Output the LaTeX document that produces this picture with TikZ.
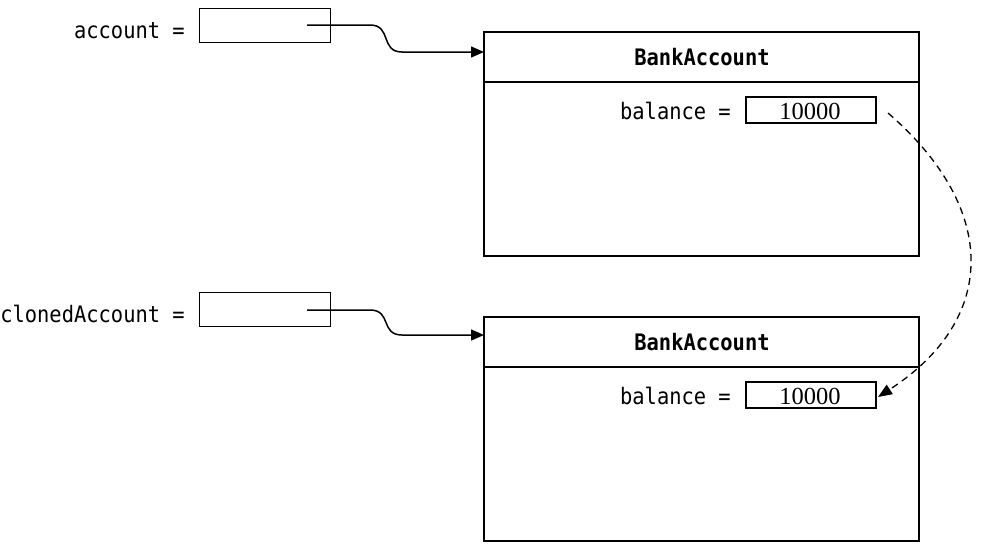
\documentclass[tikz,border=0pt]{standalone}
\usepackage{fontspec}
\setmonofont[FakeStretch=0.9]{DejaVu Sans Mono}
\setmainfont{Liberation Serif}
\usetikzlibrary{arrows.meta,calc}
\begin{document}
\begin{tikzpicture}[x=1pt,y=-1pt,
  mono/.style={font=\fontsize{22.7}{26}\selectfont\ttfamily, inner sep=0pt},
  lbl/.style={mono, anchor=base east},
  ref/.style={draw=black, line width=1.4pt, minimum width=131pt, minimum height=34pt, inner sep=0pt, outer sep=0pt},
  objbox/.style={draw=black, line width=2.4pt, minimum width=435pt, minimum height=224pt, inner sep=0pt, outer sep=0pt},
  hdrbox/.style={draw=black, line width=2.4pt, minimum width=435pt, minimum height=50pt, inner sep=0pt, outer sep=0pt},
  title/.style={font=\fontsize{22.7}{26}\selectfont\ttfamily\bfseries, inner sep=0pt, anchor=base},
  valbox/.style={draw=black, line width=1.4pt, minimum width=130pt, minimum height=26pt, inner sep=0pt, outer sep=0pt},
  valtext/.style={font=\fontsize{24.5}{28}\selectfont\rmfamily, inner sep=0pt, anchor=base},
  ptr/.style={draw=black, line width=1.5pt, -{Triangle[length=13pt,width=11pt]}},
  copyarrow/.style={draw=black, line width=1.3pt, dash pattern=on 7pt off 5pt, -{Triangle[length=14pt,width=11pt]}}
]
\useasboundingbox (0,0) rectangle (982,554);

% reference variables
\node[lbl] (accl) at (185,38) {account =};
\node[ref] (acc) at (265,25.5) {};
\coordinate (accp) at (307,25);
\node[lbl] (clol) at (185,322) {clonedAccount =};
\node[ref] (clo) at (265,309.5) {};
\coordinate (clop) at (307,310);

% object 1
\node[objbox] (obj1) at (701.5,144) {};
\node[hdrbox, anchor=north] (h1) at (obj1.north) {};
\node[title] (t1) at (702,65) {BankAccount};
\node[lbl] (b1) at (731,119) {balance =};
\node[valbox] (v1) at (811,110) {};
\node[valtext] (n1) at (810,119) {10000};

% object 2
\node[objbox] (obj2) at (701.5,429) {};
\node[hdrbox, anchor=north] (h2) at (obj2.north) {};
\node[title] (t2) at (702,350) {BankAccount};
\node[lbl] (b2) at (731,404) {balance =};
\node[valbox] (v2) at (811,395) {};
\node[valtext] (n2) at (810,404) {10000};

% pointers
\draw[ptr] (accp) -- (370,25) .. controls (392,25) and (380,52) .. (402,52) -- ($(h1.west)+(0,-5)$);
\draw[ptr] (clop) -- (370,310) .. controls (392,310) and (380,335) .. (402,335) -- ($(h2.west)+(0,-7)$);

% copy arrow
\coordinate (cs) at ($(v1.east)+(12,3)$);
\coordinate (ce) at ($(v2.east)+(2,2)$);
\draw[copyarrow] (cs) .. controls (1000,210) and (997,320) .. (ce);
\end{tikzpicture}
\end{document}
